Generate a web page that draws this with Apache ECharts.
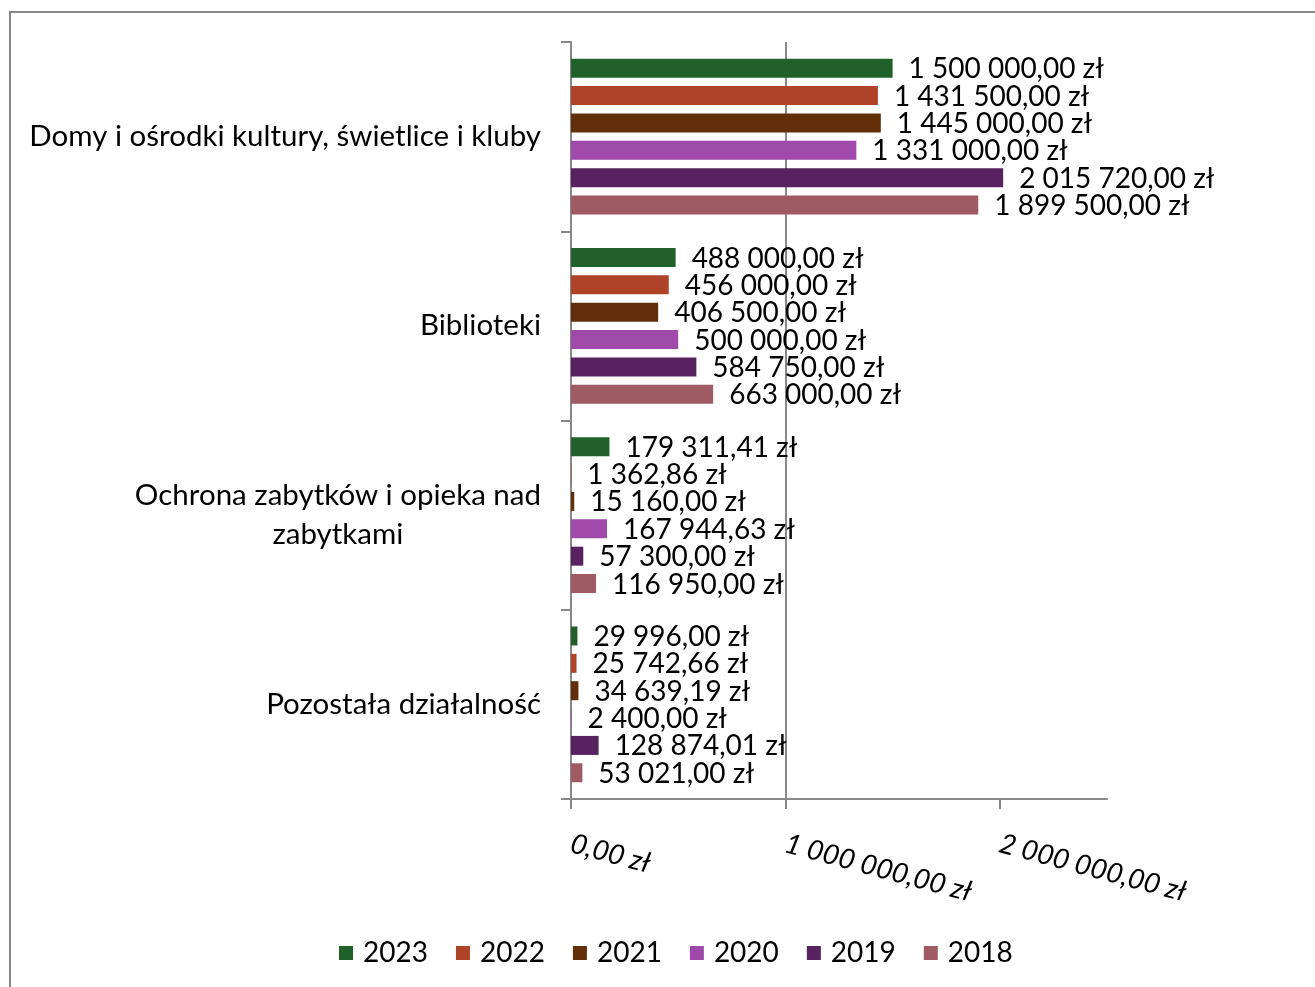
<!DOCTYPE html>
<html>
<head>
    <meta charset="utf-8">
    <title>Wydatki na kulturę</title>
    <script src="https://cdn.jsdelivr.net/npm/echarts@6/dist/echarts.min.js"></script>
    <style>
        html, body { margin: 0; padding: 0; background: #fff; }
        #chart1 { width: 1315px; height: 987px; }
    </style>
</head>
<body>
    <div id="chart1"></div>
    <script type="text/javascript">
        // dane z wykresu
        var categories = ['Domy i ośrodki kultury, świetlice i kluby', 'Biblioteki', 'Ochrona zabytków i opieka nad\nzabytkami', 'Pozostała działalność'];
        var years = ['2023', '2022', '2021', '2020', '2019', '2018'];
        var v2023 = [1500000, 488000, 179311.41, 29996];
        var v2022 = [1431500, 456000, 1362.86, 25742.66];
        var v2021 = [1445000, 406500, 15160, 34639.19];
        var v2020 = [1331000, 500000, 167944.63, 2400];
        var v2019 = [2015720, 584750, 57300, 128874.01];
        var v2018 = [1899500, 663000, 116950, 53021];
        var axisTicks = [0, 1000000, 2000000];

        var values = [v2023, v2022, v2021, v2020, v2019, v2018];
        var colors = ['#1F6129', '#AF4327', '#632F08', '#9F4AAB', '#58215F', '#9F5A63'];
        var FONT = 'Lato';

        function formatZl(v) {
            var parts = v.toFixed(2).split('.');
            var intPart = parts[0].replace(/\B(?=(\d{3})+(?!\d))/g, ' ');
            return intPart + ',' + parts[1] + ' zł';
        }

        var myChart1 = echarts.init(document.getElementById('chart1'));

        var series = years.map(function (y, i) {
            return {
                name: y,
                type: 'bar',
                data: values[i],
                barWidth: 19,
                barGap: '44%',
                itemStyle: { color: colors[i] },
                label: {
                    show: true,
                    position: 'right',
                    distance: 16,
                    offset: [0, 1],
                    color: '#000',
                    fontFamily: FONT,
                    fontSize: 28,
                    formatter: function (p) { return formatZl(p.value); }
                }
            };
        });

        myChart1.setOption({
            animation: false,
            color: colors,
            graphic: [{
                type: 'rect',
                shape: { x: 10, y: 12, width: 1400, height: 1100 },
                style: { fill: 'none', stroke: '#888', lineWidth: 2 }
            }],
            grid: {
                left: 571,
                top: 42,
                right: 208,
                bottom: 188,
                outerBoundsMode: 'none'
            },
            legend: {
                data: years,
                left: 334,
                top: 934,
                icon: 'rect',
                itemWidth: 14,
                itemHeight: 14,
                itemGap: 28,
                textStyle: {
                    color: '#000',
                    fontFamily: FONT,
                    fontSize: 28,
                    padding: [0, 0, 0, 5]
                }
            },
            xAxis: {
                type: 'value',
                min: 0,
                max: 2500000,
                interval: 1000000,
                axisLine: { show: true, lineStyle: { color: '#888', width: 2 } },
                axisTick: { show: true, length: 10, customValues: axisTicks, lineStyle: { color: '#888', width: 2 } },
                splitLine: { show: true, showMinLine: false, showMaxLine: false, lineStyle: { color: '#888', width: 2 } },
                axisLabel: {
                    customValues: axisTicks,
                    rotate: -15,
                    margin: 44,
                    color: '#000',
                    fontFamily: FONT,
                    fontStyle: 'italic',
                    fontSize: 28,
                    formatter: function (v) { return formatZl(v); }
                }
            },
            yAxis: {
                type: 'category',
                inverse: true,
                data: categories,
                axisLine: { show: true, lineStyle: { color: '#888', width: 2 } },
                axisTick: { show: true, length: 10, lineStyle: { color: '#888', width: 2 } },
                axisLabel: {
                    margin: 30,
                    color: '#000',
                    fontFamily: FONT,
                    fontSize: 29.5,
                    formatter: function (v) {
                        if (v.indexOf('\n') < 0) return v;
                        return v.split('\n').map(function (s) { return '{c|' + s + '}'; }).join('\n');
                    },
                    rich: {
                        c: { align: 'center', color: '#000', fontFamily: FONT, fontSize: 29.5, lineHeight: 39 }
                    }
                }
            },
            series: series
        });
    </script>
</body>
</html>
